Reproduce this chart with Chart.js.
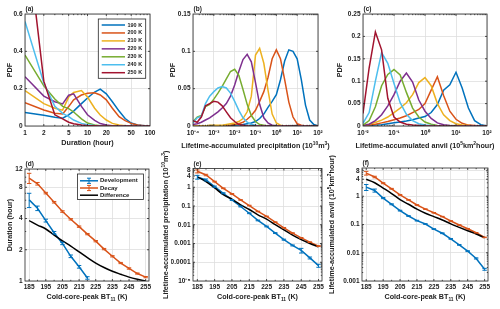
<!DOCTYPE html>
<html>
<head>
<meta charset="utf-8">
<title>CCS lifetime statistics</title>
<script src="https://cdn.jsdelivr.net/npm/chart.js@4.4.1/dist/chart.umd.min.js"></script>
<style>
  html, body { margin: 0; padding: 0; background: #ffffff; }
  #fig { position: relative; width: 500px; height: 309px; }
  #fig canvas { position: absolute; left: 0; top: 0; }
</style>
</head>
<body>
<div id="fig">
  <canvas id="panelA" width="500" height="309"></canvas>
  <canvas id="panelB" width="500" height="309"></canvas>
  <canvas id="panelC" width="500" height="309"></canvas>
  <canvas id="panelD" width="500" height="309"></canvas>
  <canvas id="panelE" width="500" height="309"></canvas>
  <canvas id="panelF" width="500" height="309"></canvas>
</div>
<script>
// ---------- data ----------
const tempLabels = ["190 K", "200 K", "210 K", "220 K", "230 K", "240 K", "250 K"];

// (a) PDF of duration
const durationBins = [1, 2, 3, 4, 5, 6, 8, 10, 13, 16, 20, 25, 32, 40, 50, 63, 80, 100];
const durPdf190 = [0.072, 0.057, 0.047, 0.042, 0.06, 0.08, 0.12, 0.15, 0.182, 0.198, 0.172, 0.13, 0.08, 0.04, 0.016, 0.005, 0.001, 0];
const durPdf200 = [0.125, 0.086, 0.068, 0.064, 0.104, 0.14, 0.166, 0.175, 0.178, 0.166, 0.14, 0.095, 0.05, 0.029, 0.014, 0.005, 0.002, 0];
const durPdf210 = [0.19, 0.12, 0.095, 0.085, 0.155, 0.18, 0.19, 0.155, 0.095, 0.059, 0.032, 0.014, 0.005, 0.002, 0, 0, 0, 0];
const durPdf220 = [0.264, 0.16, 0.13, 0.118, 0.165, 0.172, 0.105, 0.06, 0.03, 0.013, 0.005, 0.002, 0, 0, 0, 0, 0, 0];
const durPdf230 = [0.38, 0.215, 0.145, 0.105, 0.093, 0.075, 0.038, 0.016, 0.006, 0.002, 0.001, 0, 0, 0, 0, 0, 0, 0];
const durPdf240 = [0.56, 0.23, 0.105, 0.068, 0.05, 0.032, 0.014, 0.007, 0.003, 0.001, 0, 0, 0, 0, 0, 0, 0, 0];
const durPdf250 = [1.1, 0.24, 0.06, 0.038, 0.02, 0.012, 0.005, 0.002, 0.001, 0, 0, 0, 0, 0, 0, 0, 0, 0];

// (b) PDF of lifetime-accumulated precipitation (10^10 m^3)
const precipBins = [1e-4, 1.58e-4, 2.51e-4, 3.98e-4, 6.31e-4, 1e-3, 1.58e-3, 2.51e-3, 3.98e-3, 6.31e-3,
  0.01, 0.0158, 0.0251, 0.0398, 0.0631, 0.1, 0.158, 0.251, 0.398, 0.631,
  1, 1.58, 2.51, 3.98, 6.31, 10, 15.8, 25.1, 39.8, 63.1, 100];
const precipPdf190 = [0, 0, 0, 0, 0, 0, 0, 0, 0, 0, 0.001, 0.0015, 0.002, 0.003, 0.004, 0.006, 0.01, 0.016, 0.025, 0.033, 0.042, 0.062, 0.087, 0.102, 0.1, 0.09, 0.062, 0.028, 0.008, 0.002, 0];
const precipPdf200 = [0, 0, 0, 0, 0, 0, 0, 0, 0, 0.001, 0.002, 0.003, 0.005, 0.009, 0.014, 0.021, 0.033, 0.046, 0.065, 0.09, 0.102, 0.09, 0.062, 0.032, 0.012, 0.003, 0.001, 0, 0, 0, 0];
const precipPdf210 = [0, 0, 0, 0, 0.001, 0.001, 0.001, 0.001, 0.002, 0.003, 0.004, 0.006, 0.01, 0.019, 0.04, 0.095, 0.104, 0.084, 0.048, 0.016, 0.004, 0.001, 0, 0, 0, 0, 0, 0, 0, 0, 0];
const precipPdf220 = [0.002, 0.003, 0.005, 0.008, 0.011, 0.015, 0.019, 0.024, 0.03, 0.04, 0.055, 0.073, 0.089, 0.096, 0.086, 0.058, 0.029, 0.011, 0.004, 0.001, 0, 0, 0, 0, 0, 0, 0, 0, 0, 0, 0];
const precipPdf230 = [0.006, 0.012, 0.014, 0.026, 0.029, 0.036, 0.044, 0.053, 0.063, 0.073, 0.076, 0.068, 0.049, 0.029, 0.014, 0.006, 0.002, 0.001, 0, 0, 0, 0, 0, 0, 0, 0, 0, 0, 0, 0, 0];
const precipPdf240 = [0.004, 0.011, 0.013, 0.03, 0.04, 0.046, 0.051, 0.053, 0.051, 0.044, 0.033, 0.021, 0.011, 0.005, 0.002, 0.001, 0, 0, 0, 0, 0, 0, 0, 0, 0, 0, 0, 0, 0, 0, 0];
const precipPdf250 = [0.007, 0.005, 0.012, 0.027, 0.03, 0.033, 0.032, 0.027, 0.019, 0.011, 0.006, 0.002, 0.001, 0, 0, 0, 0, 0, 0, 0, 0, 0, 0, 0, 0, 0, 0, 0, 0, 0, 0];

// (c) PDF of lifetime-accumulated anvil (10^5 km^2 hour)
const anvilBins = [0.01, 0.0158, 0.0251, 0.0398, 0.0631, 0.1, 0.158, 0.251, 0.398, 0.631,
  1, 1.58, 2.51, 3.98, 6.31, 10, 15.8, 25.1, 39.8, 63.1, 100];
const anvilPdf190 = [0, 0.001, 0.002, 0.003, 0.005, 0.007, 0.009, 0.011, 0.014, 0.018, 0.021, 0.03, 0.048, 0.08, 0.092, 0.12, 0.085, 0.04, 0.012, 0.003, 0];
const anvilPdf200 = [0, 0.002, 0.004, 0.007, 0.01, 0.014, 0.018, 0.023, 0.03, 0.037, 0.05, 0.08, 0.11, 0.068, 0.033, 0.015, 0.006, 0.002, 0.001, 0, 0];
const anvilPdf210 = [0.001, 0.004, 0.008, 0.013, 0.02, 0.03, 0.04, 0.052, 0.07, 0.097, 0.108, 0.09, 0.05, 0.025, 0.012, 0.005, 0.002, 0.001, 0, 0, 0];
const anvilPdf220 = [0.001, 0.004, 0.012, 0.025, 0.045, 0.07, 0.1, 0.118, 0.098, 0.058, 0.033, 0.017, 0.007, 0.003, 0.001, 0, 0, 0, 0, 0, 0];
const anvilPdf230 = [0.002, 0.012, 0.043, 0.09, 0.115, 0.126, 0.114, 0.075, 0.04, 0.02, 0.009, 0.004, 0.001, 0, 0, 0, 0, 0, 0, 0, 0];
const anvilPdf240 = [0.006, 0.03, 0.1, 0.164, 0.14, 0.095, 0.052, 0.026, 0.012, 0.005, 0.002, 0.001, 0, 0, 0, 0, 0, 0, 0, 0, 0];
const anvilPdf250 = [0.028, 0.13, 0.21, 0.17, 0.062, 0.02, 0.009, 0.004, 0.002, 0.001, 0, 0, 0, 0, 0, 0, 0, 0, 0, 0, 0];

// (d)-(f) versus cold-core-peak BT11 (K)
const btBins = [185, 190, 195, 200, 205, 210, 215, 220, 225, 230, 235, 240, 245, 250, 255];
const phaseLabels = ["Development", "Decay", "Difference"];

const durDevelopment = [6.05, 5.02, 3.82, 2.92, 2.3, 1.73, 1.37, 1.07, null, null, null, null, null, null, null];
const durDevelopmentErr = [0.95, 0.25, 0.12, 0.08, 0.06, 0.05, 0.04, 0.03, null, null, null, null, null, null, null];
const durDecay = [9.8, 8.65, 7.03, 5.74, 4.67, 3.93, 3.34, 2.83, 2.42, 2.03, 1.73, 1.49, 1.32, 1.18, 1.09];
const durDecayErr = [1.1, 0.25, 0.12, 0.1, 0.08, 0.06, 0.05, 0.04, 0.035, 0.03, 0.025, 0.02, 0.02, 0.015, 0.015];
const durDifference = [3.82, 3.46, 3.17, 2.77, 2.44, 2.17, 1.91, 1.68, 1.49, 1.35, 1.24, 1.16, 1.09, 1.04, 1.0];

const precipDevelopment = [3.5, 2.46, 1.08, 0.48, 0.21, 0.094, 0.041, 0.017, 0.0081, 0.0036, 0.0016, 0.00079, 0.00043, 0.00017, 0.000066];
const precipDevelopmentErr = [0.8, 0.3, 0.08, 0.03, 0.012, 0.005, 0.002, 0.0008, 0.0004, 0.0002, 0.0001, 0.00005, 0.00012, 0.00002, 0.000012];
const precipDecay = [7.1, 4.5, 2.0, 0.88, 0.44, 0.21, 0.106, 0.051, 0.028, 0.0138, 0.0069, 0.0036, 0.002, 0.00118, 0.00073];
const precipDecayErr = [1.3, 0.4, 0.1, 0.04, 0.02, 0.008, 0.004, 0.002, 0.001, 0.0005, 0.00025, 0.00013, 0.00008, 0.00005, 0.00004];
const precipDifference = [3.6, 2.0, 0.92, 0.4, 0.23, 0.116, 0.065, 0.034, 0.02, 0.0102, 0.0053, 0.0028, 0.0016, 0.001, 0.00066];

const anvilDevelopment = [2.1, 1.6, 0.86, 0.52, 0.31, 0.2, 0.137, 0.104, 0.069, 0.049, 0.031, 0.019, 0.0114, 0.0063, 0.0026];
const anvilDevelopmentErr = [0.5, 0.2, 0.04, 0.02, 0.01, 0.006, 0.004, 0.003, 0.002, 0.0015, 0.001, 0.0006, 0.0004, 0.0003, 0.0002];
const anvilDecay = [6.6, 4.8, 2.9, 1.84, 1.12, 0.74, 0.49, 0.35, 0.26, 0.19, 0.133, 0.096, 0.071, 0.051, 0.035];
const anvilDecayErr = [1.0, 0.3, 0.12, 0.06, 0.035, 0.02, 0.012, 0.009, 0.006, 0.004, 0.003, 0.002, 0.0015, 0.001, 0.0008];
const anvilDifference = [4.0, 3.0, 1.95, 1.25, 0.76, 0.52, 0.35, 0.25, 0.19, 0.145, 0.105, 0.079, 0.06, 0.046, 0.034];

// tick values and labels
const durationTicks = [1, 2, 5, 10, 20, 50, 100];
const pdfTicksA = [0, 0.2, 0.4, 0.6];
const precipTicks = [1e-4, 1e-3, 1e-2, 1e-1, 1, 10, 100];
const precipTickLabels = ["10⁻⁴", "10⁻³", "10⁻²", "10⁻¹", "10⁰", "10¹", "10²"];
const pdfTicksB = [0, 0.05, 0.1, 0.15];
const anvilTicks = [0.01, 0.1, 1, 10, 100];
const anvilTickLabels = ["10⁻²", "10⁻¹", "10⁰", "10¹", "10²"];
const pdfTicksC = [0, 0.05, 0.1, 0.15, 0.2, 0.25];
const btTicks = [185, 195, 205, 215, 225, 235, 245, 255];
const durationTicksD = [1, 2, 4, 8, 12];
const precipTicksE = [1e-5, 1e-4, 1e-3, 0.01, 0.1, 1, 4, 8];
const precipTickLabelsE = ["10⁻⁵", "0.0001", "0.001", "0.01", "0.1", "1", "4", "8"];
const anvilTicksF = [0.001, 0.01, 0.1, 1, 4, 8];

// ---------- drawing ----------
const FONT = '"Liberation Sans", Arial, Helvetica, sans-serif';
const INK = "#222222";
const tempColors = ["#0072BD", "#D95319", "#EDB120", "#7E2F8E", "#77AC30", "#4DBEEE", "#A2142F"];
const phaseColors = ["#0072BD", "#D95319", "#000000"];

function points(xs, ys) {
  return xs.map((x, i) => ({ x: x, y: ys[i] }));
}

function logMinor(min, max, majors) {
  const out = [];
  for (let e = Math.floor(Math.log10(min)); e <= Math.ceil(Math.log10(max)); e++) {
    for (let m = 1; m < 10; m++) {
      const v = +(m * Math.pow(10, e)).toPrecision(6);
      if (v > min && v < max && majors.indexOf(v) < 0) out.push(v);
    }
  }
  return out;
}

// text with ^{sup} and _{sub} parts
function drawRich(ctx, text, x, y, size, rot) {
  const parts = [];
  const re = /([\^_])\{([^}]*)\}/g;
  let last = 0, m;
  while ((m = re.exec(text))) {
    if (m.index > last) parts.push({ t: text.slice(last, m.index), k: "" });
    parts.push({ t: m[2], k: m[1] });
    last = re.lastIndex;
  }
  if (last < text.length) parts.push({ t: text.slice(last), k: "" });
  const fontOf = k => "bold " + (k ? size * 0.68 : size) + "px " + FONT;
  let w = 0;
  parts.forEach(p => { ctx.font = fontOf(p.k); p.w = ctx.measureText(p.t).width; w += p.w; });
  ctx.save();
  ctx.translate(x, y);
  ctx.rotate(rot);
  ctx.fillStyle = INK;
  ctx.textAlign = "left";
  ctx.textBaseline = "middle";
  let cx = -w / 2;
  parts.forEach(p => {
    ctx.font = fontOf(p.k);
    const dy = p.k === "^" ? -size * 0.33 : (p.k === "_" ? size * 0.3 : 0);
    ctx.fillText(p.t, cx, dy);
    cx += p.w;
  });
  ctx.restore();
}

function drawLegend(chart, L) {
  const ctx = chart.ctx;
  ctx.fillStyle = "#ffffff";
  ctx.fillRect(L.box[0], L.box[1], L.box[2] - L.box[0], L.box[3] - L.box[1]);
  ctx.strokeStyle = "#262626";
  ctx.lineWidth = 0.8;
  ctx.strokeRect(L.box[0], L.box[1], L.box[2] - L.box[0], L.box[3] - L.box[1]);
  ctx.font = "bold " + L.size + "px " + FONT;
  ctx.textAlign = "left";
  ctx.textBaseline = "middle";
  chart.data.datasets.forEach((ds, i) => {
    const y = L.row0 + i * L.step;
    ctx.strokeStyle = ds.borderColor;
    ctx.lineWidth = ds.borderWidth;
    ctx.beginPath();
    ctx.moveTo(L.line[0], y);
    ctx.lineTo(L.line[1], y);
    ctx.stroke();
    if (ds.errorBars) {
      const cx = (L.line[0] + L.line[1]) / 2;
      ctx.lineWidth = 1;
      ctx.beginPath();
      ctx.moveTo(cx, y - 2.6); ctx.lineTo(cx, y + 2.6);
      ctx.moveTo(cx - 2, y - 2.6); ctx.lineTo(cx + 2, y - 2.6);
      ctx.moveTo(cx - 2, y + 2.6); ctx.lineTo(cx + 2, y + 2.6);
      ctx.stroke();
    }
    ctx.fillStyle = INK;
    ctx.fillText(ds.label, L.textX, y);
  });
}

const decorPlugin = {
  id: "decor",
  afterDatasetsDraw(chart) {
    const ctx = chart.ctx, a = chart.chartArea, xs = chart.scales.x, ys = chart.scales.y;
    ctx.save();
    ctx.beginPath();
    ctx.rect(a.left - 3, a.top - 3, a.right - a.left + 6, a.bottom - a.top + 6);
    ctx.clip();
    chart.data.datasets.forEach(ds => {
      if (!ds.errorBars) return;
      ctx.strokeStyle = ds.borderColor;
      ctx.lineWidth = 1;
      ds.data.forEach((p, i) => {
        const e = ds.errorBars[i];
        if (p.y == null || e == null) return;
        const px = xs.getPixelForValue(p.x);
        const top = ys.getPixelForValue(p.y + e);
        const bot = ys.getPixelForValue(p.y - e);
        ctx.beginPath();
        ctx.moveTo(px, top); ctx.lineTo(px, bot);
        ctx.moveTo(px - 2.2, top); ctx.lineTo(px + 2.2, top);
        ctx.moveTo(px - 2.2, bot); ctx.lineTo(px + 2.2, bot);
        ctx.stroke();
      });
    });
    ctx.restore();
  },
  afterDraw(chart, args, o) {
    const ctx = chart.ctx, a = chart.chartArea, xs = chart.scales.x, ys = chart.scales.y;
    ctx.save();
    ctx.strokeStyle = "#262626";
    ctx.lineWidth = 0.8;
    ctx.strokeRect(a.left, a.top, a.right - a.left, a.bottom - a.top);
    const markX = (vals, len) => vals.forEach(v => {
      const px = xs.getPixelForValue(v);
      if (px < a.left + 0.5 || px > a.right - 0.5) return;
      ctx.beginPath();
      ctx.moveTo(px, a.bottom); ctx.lineTo(px, a.bottom - len);
      ctx.moveTo(px, a.top); ctx.lineTo(px, a.top + len);
      ctx.stroke();
    });
    const markY = (vals, len) => vals.forEach(v => {
      const py = ys.getPixelForValue(v);
      if (py < a.top + 0.5 || py > a.bottom - 0.5) return;
      ctx.beginPath();
      ctx.moveTo(a.left, py); ctx.lineTo(a.left + len, py);
      ctx.moveTo(a.right, py); ctx.lineTo(a.right - len, py);
      ctx.stroke();
    });
    markX(xs.ticks.map(t => t.value), 2);
    markY(ys.ticks.map(t => t.value), 2);
    markX(o.minorX || [], 1.2);
    markY(o.minorY || [], 1.2);

    ctx.fillStyle = INK;
    ctx.font = "bold 6.5px " + FONT;
    ctx.textAlign = "left";
    ctx.textBaseline = "middle";
    ctx.fillText(o.letter, a.left + 0.5, a.top - 4.5);
    drawRich(ctx, o.xTitle, (a.left + a.right) / 2, o.xTitleY, 7.2, 0);
    drawRich(ctx, o.yTitle, o.yTitleX, (a.top + a.bottom) / 2, 7.2, -Math.PI / 2);
    if (o.legend) drawLegend(chart, o.legend);
    ctx.restore();
  }
};

function axis(type, min, max, ticks, labels, pad) {
  return {
    type: type,
    min: min,
    max: max,
    afterBuildTicks: s => { s.ticks = ticks.map(v => ({ value: v })); },
    grid: { color: "#dedede", lineWidth: 0.8, drawTicks: false },
    border: { display: false },
    ticks: {
      font: { family: FONT, size: 6.5, weight: "bold" },
      color: INK,
      padding: pad,
      autoSkip: false,
      maxRotation: 0,
      minRotation: 0,
      callback: (v, i) => (labels ? labels[i] : String(v))
    }
  };
}

function panel(id, area, xAxis, yAxis, datasets, decor) {
  const YW = 22, XH = 16;
  const zeroPad = s => { s.paddingLeft = s.paddingRight = s.paddingTop = s.paddingBottom = 0; };
  xAxis.afterFit = s => { s.height = XH; zeroPad(s); };
  yAxis.afterFit = s => { s.width = YW; zeroPad(s); };
  return new Chart(document.getElementById(id), {
    type: "line",
    data: { datasets: datasets },
    options: {
      responsive: false,
      animation: false,
      events: [],
      layout: { padding: { left: area.l - YW, top: area.t, right: 500 - area.r, bottom: 309 - area.b - XH } },
      elements: { point: { radius: 0 }, line: { tension: 0, fill: false } },
      plugins: { legend: { display: false }, tooltip: { enabled: false }, decor: decor },
      scales: { x: xAxis, y: yAxis }
    },
    plugins: [decorPlugin]
  });
}

function tempSets(xs, series) {
  return series.map((ys, k) => ({
    label: tempLabels[k],
    data: points(xs, ys),
    borderColor: tempColors[k],
    borderWidth: 1.5,
    order: 10 - k
  }));
}

function phaseSets(dev, devErr, decay, decayErr, diff) {
  return [
    { label: phaseLabels[0], data: points(btBins, dev), errorBars: devErr, borderColor: phaseColors[0], borderWidth: 1.5, order: 3 },
    { label: phaseLabels[1], data: points(btBins, decay), errorBars: decayErr, borderColor: phaseColors[1], borderWidth: 1.5, order: 2 },
    { label: phaseLabels[2], data: points(btBins, diff), borderColor: phaseColors[2], borderWidth: 1.5, cubicInterpolationMode: "monotone", order: 1 }
  ];
}

const btMinor = [190, 200, 210, 220, 230, 240, 250];

// (a)
panel("panelA", { l: 25, r: 150, t: 14, b: 126 },
  axis("logarithmic", 1, 100, durationTicks, null, 3),
  axis("linear", 0, 0.6, pdfTicksA, null, 2.5),
  tempSets(durationBins, [durPdf190, durPdf200, durPdf210, durPdf220, durPdf230, durPdf240, durPdf250]),
  {
    letter: "(a)", xTitle: "Duration (hour)", xTitleY: 142.7, yTitle: "PDF", yTitleX: 10,
    minorX: logMinor(1, 100, durationTicks),
    legend: { box: [98.3, 19, 145.7, 78.3], row0: 25, step: 7.95, line: [101.7, 125], textX: 127.5, size: 5.5 }
  });

// (b)
panel("panelB", { l: 193, r: 318, t: 14, b: 126 },
  axis("logarithmic", 1e-4, 100, precipTicks, precipTickLabels, 3),
  axis("linear", 0, 0.15, pdfTicksB, null, 2.5),
  tempSets(precipBins, [precipPdf190, precipPdf200, precipPdf210, precipPdf220, precipPdf230, precipPdf240, precipPdf250]),
  {
    letter: "(b)", xTitle: "Lifetime-accumulated precipitation (10^{10}m^{3})", xTitleY: 146, yTitle: "PDF", yTitleX: 172.7,
    minorX: logMinor(1e-4, 100, precipTicks)
  });

// (c)
panel("panelC", { l: 363, r: 487, t: 14, b: 126 },
  axis("logarithmic", 0.01, 100, anvilTicks, anvilTickLabels, 3),
  axis("linear", 0, 0.25, pdfTicksC, null, 2.5),
  tempSets(anvilBins, [anvilPdf190, anvilPdf200, anvilPdf210, anvilPdf220, anvilPdf230, anvilPdf240, anvilPdf250]),
  {
    letter: "(c)", xTitle: "Lifetime-accumulated anvil (10^{5}km^{2}hour)", xTitleY: 146, yTitle: "PDF", yTitleX: 340,
    minorX: logMinor(0.01, 100, anvilTicks)
  });

// (d)
panel("panelD", { l: 25, r: 149, t: 169, b: 281 },
  axis("linear", 182.5, 257, btTicks, null, 2),
  axis("logarithmic", 1, 12, durationTicksD, null, 2.5),
  phaseSets(durDevelopment, durDevelopmentErr, durDecay, durDecayErr, durDifference),
  {
    letter: "(d)", xTitle: "Cold-core-peak BT_{11} (K)", xTitleY: 297.5, yTitle: "Duration (hour)", yTitleX: 10,
    minorX: btMinor, minorY: logMinor(1, 12, durationTicksD),
    legend: { box: [77.5, 174, 143.5, 199.5], row0: 180.8, step: 7.2, line: [80, 98], textX: 100, size: 6 }
  });

// (e)
panel("panelE", { l: 193, r: 322, t: 168.5, b: 281 },
  axis("linear", 182.5, 257, btTicks, null, 2),
  axis("logarithmic", 1e-5, 10, precipTicksE, precipTickLabelsE, 2.5),
  phaseSets(precipDevelopment, precipDevelopmentErr, precipDecay, precipDecayErr, precipDifference),
  {
    letter: "(e)", xTitle: "Cold-core-peak BT_{11} (K)", xTitleY: 297.5,
    yTitle: "Lifetime-accumulated precipitation (10^{10}m^{3})", yTitleX: 166,
    minorX: btMinor, minorY: logMinor(1e-5, 10, precipTicksE)
  });

// (f)
panel("panelF", { l: 362, r: 488, t: 168, b: 281 },
  axis("linear", 182.5, 257, btTicks, null, 2),
  axis("logarithmic", 0.001, 10, anvilTicksF, null, 2.5),
  phaseSets(anvilDevelopment, anvilDevelopmentErr, anvilDecay, anvilDecayErr, anvilDifference),
  {
    letter: "(f)", xTitle: "Cold-core-peak BT_{11} (K)", xTitleY: 297.5,
    yTitle: "Lifetime-accumulated anvil (10^{5}km^{2}hour)", yTitleX: 332,
    minorX: btMinor, minorY: logMinor(0.001, 10, anvilTicksF)
  });
</script>
</body>
</html>
